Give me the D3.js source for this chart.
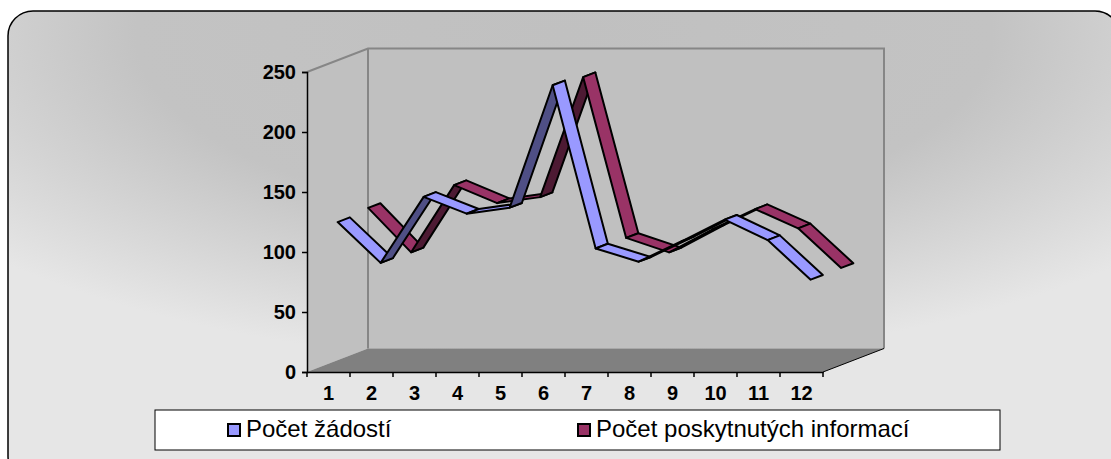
<!DOCTYPE html>
<html>
<head>
<meta charset="utf-8">
<script src="https://cdn.jsdelivr.net/npm/d3@7"></script>
<style>
  body { margin: 0; background: #fff; }
  svg { display: block; font-family: "Liberation Sans", Arial, sans-serif; }
</style>
</head>
<body>
<svg width="1111" height="459"></svg>
<script>
// data
var categories = ["1", "2", "3", "4", "5", "6", "7", "8", "9", "10", "11", "12"];
var zadosti = [122, 88, 143, 129, 134, 236, 100, 89, 106, 124, 107, 74];
var informace = [124, 87, 143, 128, 133, 233, 99, 87, 106, 123, 107, 74];
var yTicks = [0, 50, 100, 150, 200, 250];
var seriesNames = ["Počet žádostí", "Počet poskytnutých informací"];

var svg = d3.select("svg");

// fake 3d: depth vector of the plot box
var depth = [61, -23.5];

var x = d3.scaleBand().domain(categories).range([307, 823]);
var y = d3.scaleLinear().domain([0, 250]).range([372, 72]);

function P(px, py, z) {
    return [px + depth[0] * z, py + depth[1] * z];
}

// background
var defs = svg.append("defs");
var grad = defs.append("radialGradient")
    .attr("id", "bg")
    .attr("cx", 0.5).attr("cy", 0.05).attr("r", 0.7);
grad.append("stop").attr("offset", 0).attr("stop-color", "#c0c0c0");
grad.append("stop").attr("offset", 0.55).attr("stop-color", "#c3c3c3");
grad.append("stop").attr("offset", 1).attr("stop-color", "#e6e6e6");

svg.append("rect")
    .attr("x", 8).attr("y", 11)
    .attr("width", 1112).attr("height", 470)
    .attr("rx", 25).attr("ry", 25)
    .attr("fill", "url(#bg)")
    .attr("stroke", "#000")
    .attr("stroke-width", 1.5);

var x0 = x.range()[0], x1 = x.range()[1];
var yTop = y(250), yBot = y(0);

function poly(pts) {
    return "M" + pts.map(function(p) { return p[0] + "," + p[1]; }).join("L") + "Z";
}

// walls
var walls = svg.append("g").attr("id", "walls");

walls.append("path") // side wall
    .attr("d", poly([[x0, yTop], P(x0, yTop, 1), P(x0, yBot, 1), [x0, yBot]]))
    .attr("fill", "#c0c0c0");

walls.append("path") // back wall
    .attr("d", poly([P(x0, yTop, 1), P(x1, yTop, 1), P(x1, yBot, 1), P(x0, yBot, 1)]))
    .attr("fill", "#c0c0c0");

walls.append("path") // floor
    .attr("d", poly([[x0, yBot], [x1, yBot], P(x1, yBot, 1), P(x0, yBot, 1)]))
    .attr("fill", "#808080");

walls.append("path")
    .attr("d", "M" + [x0, yTop] + "L" + P(x0, yTop, 1) + "L" + P(x1, yTop, 1) + "L" + P(x1, yBot, 1)
        + "M" + P(x0, yTop, 1) + "L" + P(x0, yBot, 1))
    .attr("fill", "none")
    .attr("stroke", "#868686")
    .attr("stroke-width", 2);

walls.append("path")
    .attr("d", "M" + [x1, yBot] + "L" + P(x1, yBot, 1))
    .attr("stroke", "#000")
    .attr("stroke-width", 1);

// axes
var yAxis = svg.append("g")
    .attr("transform", "translate(" + x0 + ",0)")
    .call(d3.axisLeft(y).tickValues(yTicks).tickSize(5).tickPadding(6));

var xAxis = svg.append("g")
    .attr("transform", "translate(0," + yBot + ")")
    .call(d3.axisBottom(x).tickSize(0).tickPadding(14));

svg.selectAll(".domain").attr("stroke", "#000").attr("stroke-width", 1.5);
svg.selectAll(".tick line").attr("stroke", "#000").attr("stroke-width", 1.5);
svg.selectAll(".tick text")
    .attr("fill", "#000")
    .attr("font-size", 20)
    .attr("font-weight", "bold")
    .attr("font-family", "'Liberation Sans', Arial, sans-serif");

// category boundary ticks
xAxis.selectAll(".bound")
    .data(d3.range(categories.length + 1))
    .enter()
    .append("line")
    .attr("class", "bound")
    .attr("x1", function(i) { return x0 + i * x.step(); })
    .attr("x2", function(i) { return x0 + i * x.step(); })
    .attr("y1", 0).attr("y2", 5)
    .attr("stroke", "#000").attr("stroke-width", 1.5);

// ribbons
var series = [
    { name: seriesNames[1], values: informace, z: [0.65, 0.85], top: "#993366", under: "#4d1a33" },
    { name: seriesNames[0], values: zadosti, z: [0.15, 0.35], top: "#9999ff", under: "#4f4f85" }
];

var ribbons = svg.append("g").attr("id", "ribbons");

series.forEach(function(s) {
    var segs = d3.range(s.values.length - 1).map(function(i) {
        return {
            xa: x(categories[i]) + x.bandwidth() / 2, ya: y(s.values[i]),
            xb: x(categories[i + 1]) + x.bandwidth() / 2, yb: y(s.values[i + 1])
        };
    });
    ribbons.append("g")
        .selectAll("path")
        .data(segs)
        .enter()
        .append("path")
        .attr("d", function(d) {
            return poly([P(d.xa, d.ya, s.z[0]), P(d.xb, d.yb, s.z[0]), P(d.xb, d.yb, s.z[1]), P(d.xa, d.ya, s.z[1])]);
        })
        .attr("fill", function(d) {
            var cross = (d.xb - d.xa) * depth[1] - (d.yb - d.ya) * depth[0];
            return cross < 0 ? s.top : s.under;
        })
        .attr("stroke", "#000")
        .attr("stroke-width", 2)
        .attr("stroke-linejoin", "round");
});

// legend: two equal columns
var legend = svg.append("g").attr("id", "legend");
legend.append("rect")
    .attr("x", 155).attr("y", 410)
    .attr("width", 845).attr("height", 40)
    .attr("fill", "#fff")
    .attr("stroke", "#000")
    .attr("stroke-width", 1);

var items = legend.selectAll(".item")
    .data([
        { name: seriesNames[0], color: "#9999ff" },
        { name: seriesNames[1], color: "#993366" }
    ])
    .enter()
    .append("g")
    .attr("class", "item")
    .attr("transform", function(d, i) { return "translate(" + (228 + i * 350) + ",424)"; });

items.append("rect")
    .attr("width", 12).attr("height", 12)
    .attr("fill", function(d) { return d.color; })
    .attr("stroke", "#000")
    .attr("stroke-width", 2);

items.append("text")
    .attr("x", 18).attr("y", 13)
    .attr("font-size", 24)
    .text(function(d) { return d.name; });
</script>
</body>
</html>
